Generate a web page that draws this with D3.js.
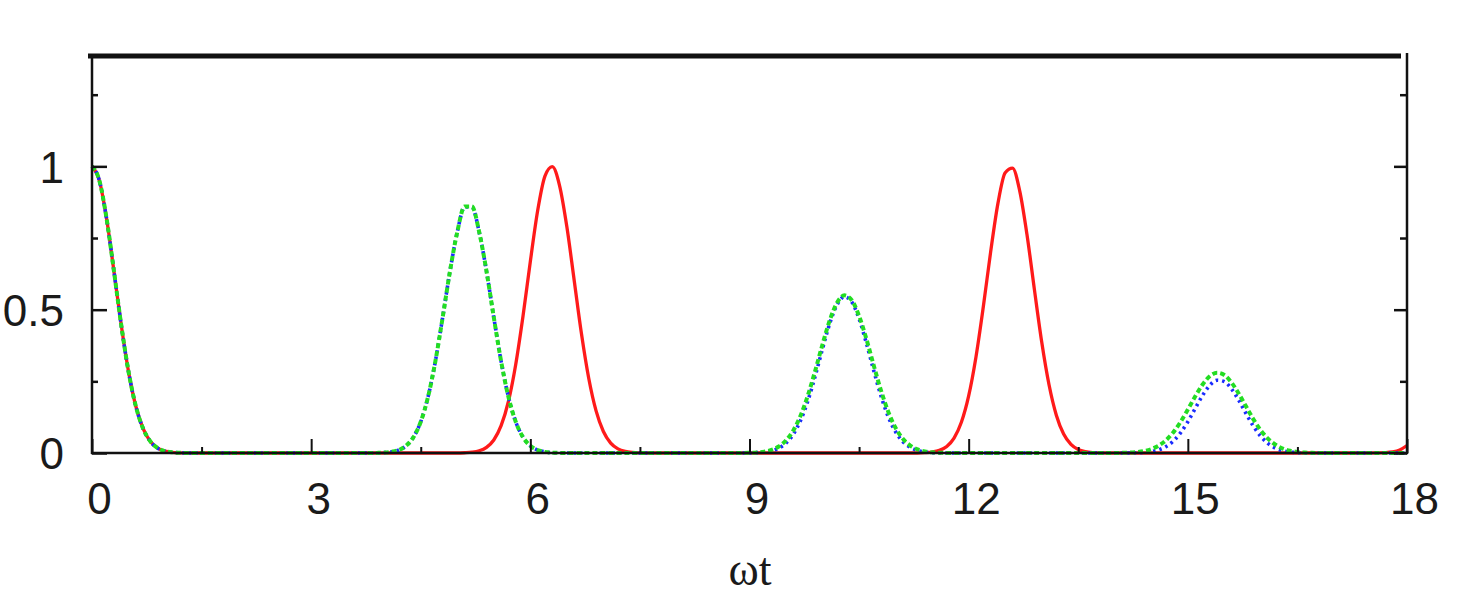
<!DOCTYPE html>
<html>
<head>
<meta charset="utf-8">
<script src="https://cdn.jsdelivr.net/npm/d3@7"></script>
<style>
  html, body { margin: 0; padding: 0; background: #ffffff; }
  svg { display: block; }
</style>
</head>
<body>
<script>
// ---- data ----
const xTickValues = [0, 3, 6, 9, 12, 15, 18];
const xMinorTicks = [1.5, 4.5, 7.5, 10.5, 13.5, 16.5];
const yTickValues = [0, 0.5, 1];
const yTickLabels = ["0", "0.5", "1"];
const yMinorTicks = [0.25, 0.75, 1.25];
const xLabel = "ωt";

// red solid curve: [ωt, value]
const redSeries = [
  [0,1],[0.1,0.951],[0.2,0.817],[0.3,0.635],[0.4,0.447],[0.5,0.284],[0.6,0.163],[0.7,0.085],[0.8,0.040],[0.9,0.017],[1.0,0.0065],[1.1,0.0022],[1.2,0.0007],[1.3,0],
  [5.0,0],[5.1,0.0009],[5.2,0.0027],[5.3,0.0077],[5.4,0.0197],[5.5,0.0455],[5.6,0.0953],[5.7,0.180],[5.8,0.309],[5.9,0.478],[6.0,0.668],[6.1,0.845],[6.2,0.966],[6.3,0.999],[6.4,0.933],[6.5,0.789],[6.6,0.603],[6.7,0.416],[6.8,0.260],[6.9,0.147],[7.0,0.075],[7.1,0.0346],[7.2,0.0145],[7.3,0.0055],[7.4,0.0019],[7.5,0.0006],[7.6,0],
  [11.3,0],[11.4,0.0011],[11.5,0.0033],[11.6,0.0091],[11.7,0.0228],[11.8,0.052],[11.9,0.107],[12.0,0.199],[12.1,0.335],[12.2,0.509],[12.3,0.700],[12.4,0.870],[12.5,0.978],[12.6,0.994],[12.7,0.913],[12.8,0.759],[12.9,0.570],[13.0,0.387],[13.1,0.238],[13.2,0.132],[13.3,0.066],[13.4,0.030],[13.5,0.0123],[13.6,0.0046],[13.7,0.0015],[13.8,0.0005],[13.9,0],
  [17.5,0],[17.6,0.0004],[17.7,0.0013],[17.8,0.0039],[17.9,0.0106],[18.0,0.0262]
];

// green dashed curve
const greenSeries = [
  [0,1],[0.1,0.951],[0.2,0.817],[0.3,0.635],[0.4,0.447],[0.5,0.284],[0.6,0.163],[0.7,0.085],[0.8,0.040],[0.9,0.017],[1.0,0.0065],[1.1,0.0022],[1.2,0.0007],[1.3,0],
  [3.8,0],[3.9,0.0004],[4.0,0.0013],[4.1,0.004],[4.2,0.0105],[4.3,0.0253],[4.4,0.0551],[4.5,0.109],[4.6,0.196],[4.7,0.320],[4.8,0.473],[4.9,0.634],[5.0,0.771],[5.1,0.86],[5.2,0.86],[5.3,0.771],[5.4,0.634],[5.5,0.473],[5.6,0.320],[5.7,0.196],[5.8,0.109],[5.9,0.055],[6.0,0.025],[6.1,0.0105],[6.2,0.004],[6.3,0.0013],[6.4,0.0004],[6.5,0],
  [8.9,0],[9.0,0.0007],[9.1,0.0019],[9.2,0.0047],[9.3,0.0107],[9.4,0.0225],[9.5,0.0438],[9.6,0.0787],[9.7,0.131],[9.8,0.2016],[9.9,0.2875],[10.0,0.3796],[10.1,0.464],[10.2,0.525],[10.3,0.55],[10.4,0.533],[10.5,0.478],[10.6,0.398],[10.7,0.306],[10.8,0.218],[10.9,0.1435],[11.0,0.0876],[11.1,0.0495],[11.2,0.0259],[11.3,0.0125],[11.4,0.0056],[11.5,0.0023],[11.6,0.0009],[11.7,0.0003],[11.8,0],
  [13.9,0],[14.0,0.0002],[14.1,0.0005],[14.2,0.0013],[14.3,0.0031],[14.4,0.0067],[14.5,0.0136],[14.6,0.0255],[14.7,0.0444],[14.8,0.0719],[14.9,0.1083],[15.0,0.1515],[15.1,0.197],[15.2,0.238],[15.3,0.268],[15.4,0.28],[15.5,0.272],[15.6,0.245],[15.7,0.206],[15.8,0.161],[15.9,0.1165],[16.0,0.0785],[16.1,0.0492],[16.2,0.0287],[16.3,0.0155],[16.4,0.0078],[16.5,0.0037],[16.6,0.0016],[16.7,0.0006],[16.8,0.0002],[16.9,0],
  [18,0]
];

// blue dotted curve
const blueSeries = [
  [0,1],[0.1,0.951],[0.2,0.817],[0.3,0.635],[0.4,0.447],[0.5,0.284],[0.6,0.163],[0.7,0.085],[0.8,0.040],[0.9,0.017],[1.0,0.0065],[1.1,0.0022],[1.2,0.0007],[1.3,0],
  [3.8,0],[3.9,0.0004],[4.0,0.0013],[4.1,0.004],[4.2,0.0105],[4.3,0.0253],[4.4,0.0551],[4.5,0.109],[4.6,0.196],[4.7,0.320],[4.8,0.473],[4.9,0.634],[5.0,0.771],[5.1,0.858],[5.2,0.858],[5.3,0.771],[5.4,0.634],[5.5,0.473],[5.6,0.320],[5.7,0.196],[5.8,0.109],[5.9,0.055],[6.0,0.025],[6.1,0.0105],[6.2,0.004],[6.3,0.0013],[6.4,0.0004],[6.5,0],
  [8.9,0],[9.0,0.0004],[9.1,0.0012],[9.2,0.0031],[9.3,0.0075],[9.4,0.0168],[9.5,0.0346],[9.6,0.0656],[9.7,0.114],[9.8,0.1827],[9.9,0.269],[10.0,0.364],[10.1,0.453],[10.2,0.518],[10.3,0.545],[10.4,0.527],[10.5,0.468],[10.6,0.383],[10.7,0.288],[10.8,0.199],[10.9,0.126],[11.0,0.0737],[11.1,0.0396],[11.2,0.0196],[11.3,0.0089],[11.4,0.0037],[11.5,0.0014],[11.6,0.0005],[11.7,0],
  [14.1,0],[14.2,0.0003],[14.3,0.0007],[14.4,0.002],[14.5,0.0048],[14.6,0.0108],[14.7,0.0221],[14.8,0.0412],[14.9,0.0702],[15.0,0.109],[15.1,0.1547],[15.2,0.200],[15.3,0.236],[15.4,0.254],[15.5,0.249],[15.6,0.223],[15.7,0.1825],[15.8,0.136],[15.9,0.0925],[16.0,0.0574],[16.1,0.0325],[16.2,0.0168],[16.3,0.0079],[16.4,0.0034],[16.5,0.0013],[16.6,0.0005],[16.7,0],
  [18,0]
];

// ---- layout ----
const W = 1473, H = 600;
const pL = 92, pR = 1407, pT = 56, pB = 453;

const svg = d3.select("body").append("svg")
  .attr("width", W).attr("height", H)
  .style("background", "#fff");

const x = d3.scaleLinear().domain([0, 18]).range([pL, pR]);
const y = d3.scaleLinear().domain([0, 1.385]).range([pB, pT]);

const line = d3.line()
  .x(d => x(d[0]))
  .y(d => y(d[1]))
  .curve(d3.curveMonotoneX);

const plot = svg.append("g");

plot.append("path").datum(redSeries)
  .attr("d", line).attr("fill", "none")
  .attr("stroke", "#ff1a1a").attr("stroke-width", 3.3);

plot.append("path").datum(blueSeries)
  .attr("d", line).attr("fill", "none")
  .attr("stroke", "#1a2cff").attr("stroke-width", 3.6)
  .attr("stroke-dasharray", "2.5,4");

plot.append("path").datum(greenSeries)
  .attr("d", line).attr("fill", "none")
  .attr("stroke", "#22dd22").attr("stroke-width", 4)
  .attr("stroke-dasharray", "5,3");

// ---- frame ----
const frame = svg.append("g").attr("stroke", "#111").attr("fill", "none");
frame.append("line").attr("x1", pL).attr("x2", pL).attr("y1", pT).attr("y2", pB + 1).attr("stroke-width", 2.5);
frame.append("line").attr("x1", pR).attr("x2", pR).attr("y1", pT - 3).attr("y2", pB + 1).attr("stroke-width", 2.5);
frame.append("line").attr("x1", pL - 1).attr("x2", pR + 1).attr("y1", pB).attr("y2", pB).attr("stroke-width", 2.5);
frame.append("line").attr("x1", pL - 4).attr("x2", pR - 6).attr("y1", pT).attr("y2", pT).attr("stroke-width", 5);

// ---- axes via d3 axis generators ----
const textColor = "#1a1a1a";

const xAxis = d3.axisBottom(x).tickValues(xTickValues).tickSize(-14).tickPadding(36)
  .tickFormat(d3.format("d"));
const gx = svg.append("g").attr("transform", `translate(0,${pB})`).call(xAxis);
gx.select(".domain").remove();
gx.selectAll(".tick line").attr("stroke", "#111").attr("stroke-width", 2);
gx.selectAll(".tick text")
  .attr("font-family", "'Liberation Sans', Arial, sans-serif")
  .attr("font-size", 44).attr("fill", textColor).attr("dx", 7).attr("dy", "0.35em").attr("y", 46);

const xMinor = d3.axisBottom(x).tickValues(xMinorTicks).tickSize(-6).tickFormat("");
const gxm = svg.append("g").attr("transform", `translate(0,${pB})`).call(xMinor);
gxm.select(".domain").remove();
gxm.selectAll(".tick line").attr("stroke", "#111").attr("stroke-width", 2);

const yAxis = d3.axisLeft(y).tickValues(yTickValues).tickSize(-15).tickPadding(0)
  .tickFormat((d, i) => yTickLabels[i]);
const gy = svg.append("g").attr("transform", `translate(${pL},0)`).call(yAxis);
gy.select(".domain").remove();
gy.selectAll(".tick line").attr("stroke", "#111").attr("stroke-width", 2.5);
gy.selectAll(".tick text")
  .attr("font-family", "'Liberation Sans', Arial, sans-serif")
  .attr("font-size", 44).attr("fill", textColor)
  .attr("x", -28).attr("dy", "0.36em").attr("text-anchor", "end");

const yMinor = d3.axisLeft(y).tickValues(yMinorTicks).tickSize(-6).tickFormat("");
const gym = svg.append("g").attr("transform", `translate(${pL},0)`).call(yMinor);
gym.select(".domain").remove();
gym.selectAll(".tick line").attr("stroke", "#111").attr("stroke-width", 2.5);

const yRight = d3.axisRight(y).tickValues(yTickValues).tickSize(-13).tickFormat("");
const gr = svg.append("g").attr("transform", `translate(${pR},0)`).call(yRight);
gr.select(".domain").remove();
gr.selectAll(".tick line").attr("stroke", "#111").attr("stroke-width", 2.5);
const yRightMinor = d3.axisRight(y).tickValues(yMinorTicks).tickSize(-7).tickFormat("");
const grm = svg.append("g").attr("transform", `translate(${pR},0)`).call(yRightMinor);
grm.select(".domain").remove();
grm.selectAll(".tick line").attr("stroke", "#111").attr("stroke-width", 2.5);

svg.append("text")
  .attr("x", 750).attr("y", 585)
  .attr("text-anchor", "middle")
  .attr("font-family", "'Liberation Serif', 'Times New Roman', serif")
  .attr("font-size", 46).attr("fill", textColor)
  .text(xLabel);
</script>
</body>
</html>
